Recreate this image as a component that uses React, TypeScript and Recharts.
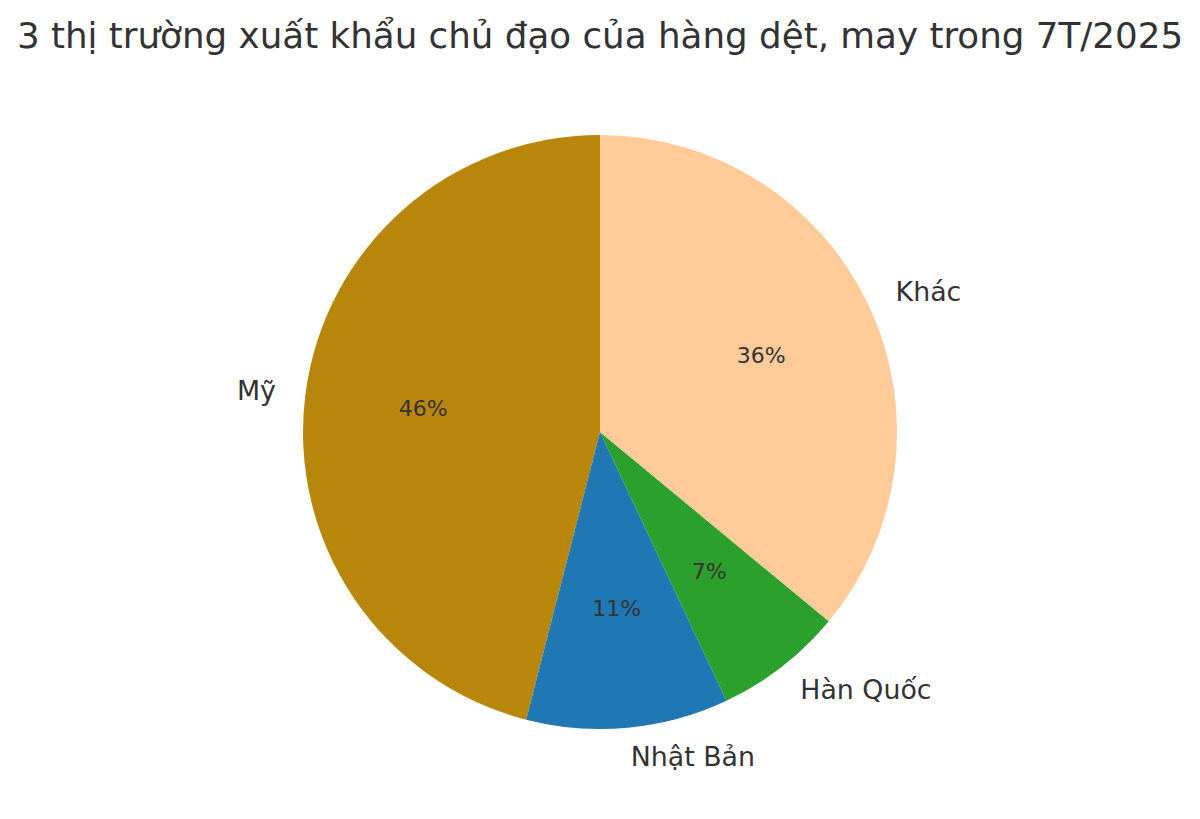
import { Cell, Pie, PieChart } from 'recharts'

const markets = ['Mỹ', 'Nhật Bản', 'Hàn Quốc', 'Khác']
const shares = [46, 11, 7, 36]
const colors = ['#b8860b', '#1f77b4', '#2ca02c', '#ffcc99']

const data = markets.map((name, i) => ({ name, value: shares[i] }))

const RAD = Math.PI / 180
const FONT = '"DejaVu Sans", sans-serif'

function renderLabel(props: any) {
  const { cx, cy, midAngle, outerRadius, name, value } = props
  const cos = Math.cos(-midAngle * RAD)
  const sin = Math.sin(-midAngle * RAD)
  const lx = cx + outerRadius * 1.1 * cos
  const ly = cy + outerRadius * 1.1 * sin - 1
  const px = cx + outerRadius * 0.6 * cos
  const py = cy + outerRadius * 0.6 * sin - 1
  return (
    <g>
      <text
        x={lx}
        y={ly}
        fill='#333333'
        fontSize={26.8}
        fontFamily={FONT}
        textAnchor={cos >= 0 ? 'start' : 'end'}
        dominantBaseline='central'
      >
        {name}
      </text>
      <text
        x={px}
        y={py}
        fill='#333333'
        fontSize={22}
        fontFamily={FONT}
        textAnchor='middle'
        dominantBaseline='central'
      >
        {`${value}%`}
      </text>
    </g>
  )
}

export default function App() {
  return (
    <div style={{ position: 'relative', width: 1200, height: 819, background: '#fff' }}>
      <style>{'body{margin:0}'}</style>
      <div
        style={{
          position: 'absolute',
          top: 12,
          left: 0,
          width: 1200,
          textAlign: 'center',
          fontFamily: FONT,
          fontSize: 35.7,
          lineHeight: '48px',
          color: '#333333',
        }}
      >
        3 thị trường xuất khẩu chủ đạo của hàng dệt, may trong 7T/2025
      </div>
      <PieChart width={1200} height={819} margin={{ top: 0, right: 0, bottom: 0, left: 0 }}>
        <Pie
          data={data}
          dataKey='value'
          nameKey='name'
          cx={600}
          cy={432}
          outerRadius={297}
          startAngle={90}
          endAngle={450}
          stroke='none'
          label={renderLabel}
          labelLine={false}
          isAnimationActive={false}
        >
          {data.map((d, i) => (
            <Cell key={d.name} fill={colors[i]} />
          ))}
        </Pie>
      </PieChart>
    </div>
  )
}
